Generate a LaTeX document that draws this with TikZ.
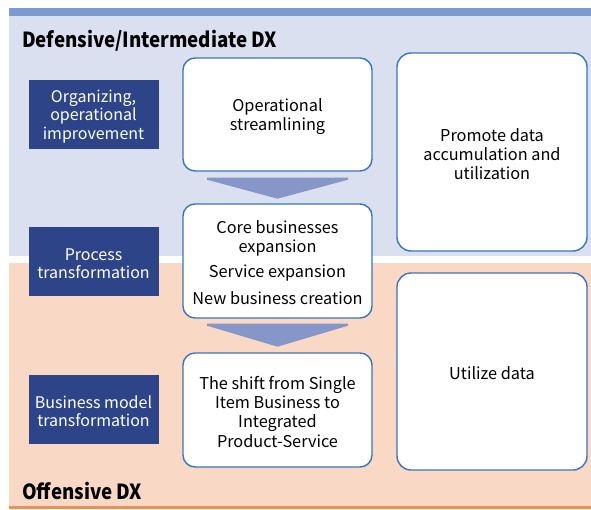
\documentclass[tikz,border=0pt]{standalone}
\usepackage{fontspec}
\setmainfont{Noto Sans CJK JP}
\newfontfamily\headfont[FakeStretch=0.9]{Noto Sans CJK JP}
\definecolor{bgblue}{HTML}{DAE0F0}
\definecolor{barblue}{HTML}{7B9BD0}
\definecolor{bgpeach}{HTML}{F9D9C6}
\definecolor{lineorange}{HTML}{F0904E}
\definecolor{darkbox}{HTML}{2E4489}
\definecolor{boxedge}{HTML}{3B73BE}
\definecolor{arrowblue}{HTML}{8796C9}
\newcommand{\lowerstrut}{\rule{0pt}{16.5pt}}
\begin{document}
\begin{tikzpicture}[x=1pt,y=-1pt,
  label/.style={fill=darkbox,text=white,inner sep=0pt,minimum width=130pt,minimum height=69pt,align=center,font=\fontsize{16}{18.5}\selectfont},
  midbox/.style={draw=boxedge,line width=1.4pt,fill=white,rounded corners=12pt,inner sep=0pt,minimum width=189pt,align=center,font=\fontsize{16.3}{19}\selectfont},
  rightbox/.style={draw=boxedge,line width=1.4pt,fill=white,rounded corners=14pt,inner sep=0pt,minimum width=190pt,align=center,font=\fontsize{16.3}{19}\selectfont},
  flow/.style={fill=arrowblue},
  heading/.style={anchor=base west,inner sep=0pt,font=\headfont\fontsize{20.8}{22}\selectfont\bfseries}]
\useasboundingbox (0,0) rectangle (591,509);
% backgrounds
\fill[bgblue] (9,16) rectangle (591,256);
\fill[barblue] (9,8) rectangle (591,16);
\fill[bgpeach] (9,263) rectangle (591,506);
\fill[lineorange] (9,506) rectangle (591,509);
% headings
\node[heading] (h1) at (22,47) {Defensive/Intermediate DX};
\node[heading] (h2) at (22,499) {Offensive DX};
% left labels
\node[label] (l1) at (93.5,114.5) {\lowerstrut Organizing,\\operational\\improvement};
\node[label] (l2) at (93.5,261.5) {\lowerstrut Process\\transformation};
\node[label] (l3) at (93.5,409.5) {\lowerstrut Business model\\transformation};
% middle boxes
\node[midbox,minimum height=113pt] (a) at (277.5,114.5) {\lowerstrut Operational\\streamlining};
\node[midbox,minimum height=114pt] (b) at (277.5,261) {\lowerstrut Core businesses\\expansion\\[6pt]Service expansion\\[8pt]New business creation};
\node[midbox,minimum height=114pt] (c) at (277.5,410) {\lowerstrut The shift from Single\\Item Business to\\Integrated\\[1pt]Product-Service};
% right boxes
\node[rightbox,minimum height=198pt] (r1) at (492,152) {\lowerstrut Promote data\\accumulation and\\utilization};
\node[rightbox,minimum height=197pt] (r2) at (492,371.5) {\lowerstrut Utilize data};
% flow arrows
\fill[flow] ([xshift=-70.5pt,yshift=-6pt]a.south) -- ([xshift=70.5pt,yshift=-6pt]a.south) -- ([xshift=70.5pt,yshift=-8pt]a.south) -- ([yshift=-27pt]a.south) -- ([xshift=-70.5pt,yshift=-8pt]a.south) -- cycle;
\fill[flow] ([xshift=-70.5pt,yshift=-5pt]b.south) -- ([xshift=70.5pt,yshift=-5pt]b.south) -- ([xshift=70.5pt,yshift=-7pt]b.south) -- ([yshift=-28pt]b.south) -- ([xshift=-70.5pt,yshift=-7pt]b.south) -- cycle;
\end{tikzpicture}
\end{document}
